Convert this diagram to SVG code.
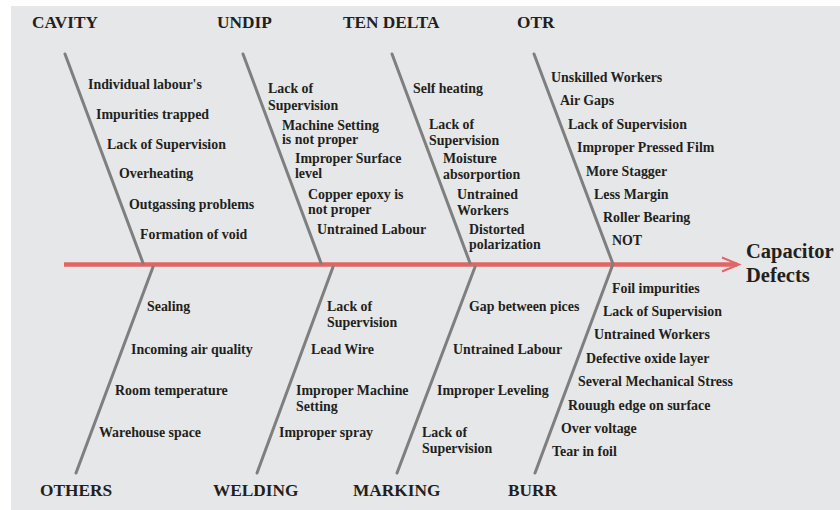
<svg xmlns="http://www.w3.org/2000/svg" width="840" height="510" viewBox="0 0 840 510">
<style>
.bg{fill:#e6e7e8}
.bone{stroke:#7f7f7f;stroke-width:3;fill:none;stroke-linecap:round}
.spine{stroke:#e06666;stroke-width:4.5;fill:none}
.head{font-family:"Liberation Serif","Times New Roman",serif;font-weight:bold;font-size:17.3px;fill:#231f20}
.item{font-family:"Liberation Serif","Times New Roman",serif;font-weight:bold;font-size:13.9px;fill:#231f20}
.effect{font-family:"Liberation Serif","Times New Roman",serif;font-weight:bold;font-size:20.5px;fill:#231f20}
</style>
<rect width="840" height="510" fill="#ffffff"/>
<rect class="bg" x="11" y="6" width="829" height="504"/>
<g id="connectors">
<line class="spine" x1="64" y1="264.5" x2="737" y2="264.5"/>
<polyline points="722,257.5 739,264.5 722,271.5" fill="none" stroke="#e06666" stroke-width="2"/>
<line class="bone" x1="65" y1="54" x2="143" y2="263"/>
<line class="bone" x1="243" y1="54" x2="321" y2="263"/>
<line class="bone" x1="392" y1="54" x2="470" y2="263"/>
<polyline class="bone" points="534,54 613,264 535,473"/>
<line class="bone" x1="153" y1="267" x2="76" y2="473"/>
<line class="bone" x1="333" y1="267" x2="257" y2="473"/>
<line class="bone" x1="475" y1="267" x2="397" y2="473"/>
</g>
<g id="cavity">
<text class="head" x="32" y="28">CAVITY</text>
<text class="item" x="88" y="89">Individual labour's</text>
<text class="item" x="96" y="119">Impurities trapped</text>
<text class="item" x="107" y="149">Lack of Supervision</text>
<text class="item" x="119" y="178">Overheating</text>
<text class="item" x="129" y="209">Outgassing problems</text>
<text class="item" x="140" y="239">Formation of void</text>
</g>
<g id="undip">
<text class="head" x="217" y="28">UNDIP</text>
<text class="item" x="268" y="93">Lack of</text>
<text class="item" x="268" y="110">Supervision</text>
<text class="item" x="282" y="130">Machine Setting</text>
<text class="item" x="282" y="144">is not proper</text>
<text class="item" x="295" y="163">Improper Surface</text>
<text class="item" x="295" y="178">level</text>
<text class="item" x="308" y="199">Copper epoxy is</text>
<text class="item" x="308" y="214">not proper</text>
<text class="item" x="317" y="234">Untrained Labour</text>
</g>
<g id="ten-delta">
<text class="head" x="343" y="28">TEN DELTA</text>
<text class="item" x="413" y="93">Self heating</text>
<text class="item" x="429" y="129">Lack of</text>
<text class="item" x="429" y="145">Supervision</text>
<text class="item" x="443" y="163">Moisture</text>
<text class="item" x="443" y="179">absorportion</text>
<text class="item" x="457" y="199">Untrained</text>
<text class="item" x="457" y="215">Workers</text>
<text class="item" x="469" y="234">Distorted</text>
<text class="item" x="469" y="249">polarization</text>
</g>
<g id="otr">
<text class="head" x="517" y="28">OTR</text>
<text class="item" x="551" y="82">Unskilled Workers</text>
<text class="item" x="560" y="105">Air Gaps</text>
<text class="item" x="568" y="129">Lack of Supervision</text>
<text class="item" x="577" y="152">Improper Pressed Film</text>
<text class="item" x="586" y="176">More Stagger</text>
<text class="item" x="594" y="199">Less Margin</text>
<text class="item" x="603" y="222">Roller Bearing</text>
<text class="item" x="612" y="245">NOT</text>
</g>
<g id="others">
<text class="head" x="40" y="496">OTHERS</text>
<text class="item" x="147" y="311">Sealing</text>
<text class="item" x="131" y="354">Incoming air quality</text>
<text class="item" x="115" y="395">Room temperature</text>
<text class="item" x="99" y="437">Warehouse space</text>
</g>
<g id="welding">
<text class="head" x="213" y="496">WELDING</text>
<text class="item" x="327" y="311">Lack of</text>
<text class="item" x="327" y="327">Supervision</text>
<text class="item" x="311" y="354">Lead Wire</text>
<text class="item" x="296" y="395">Improper Machine</text>
<text class="item" x="296" y="411">Setting</text>
<text class="item" x="279" y="437">Improper spray</text>
</g>
<g id="marking">
<text class="head" x="353" y="496">MARKING</text>
<text class="item" x="469" y="311">Gap between pices</text>
<text class="item" x="453" y="354">Untrained Labour</text>
<text class="item" x="437" y="395">Improper Leveling</text>
<text class="item" x="422" y="437">Lack of</text>
<text class="item" x="422" y="453">Supervision</text>
</g>
<g id="burr">
<text class="head" x="508" y="496">BURR</text>
<text class="item" x="612" y="293">Foil impurities</text>
<text class="item" x="603" y="316">Lack of Supervision</text>
<text class="item" x="594" y="339">Untrained Workers</text>
<text class="item" x="586" y="363">Defective oxide layer</text>
<text class="item" x="578" y="386">Several Mechanical Stress</text>
<text class="item" x="568" y="410">Rouugh edge on surface</text>
<text class="item" x="561" y="433">Over voltage</text>
<text class="item" x="552" y="456">Tear in foil</text>
</g>
<g id="effect">
<text class="effect" x="746" y="258">Capacitor</text>
<text class="effect" x="746" y="282">Defects</text>
</g>
</svg>
